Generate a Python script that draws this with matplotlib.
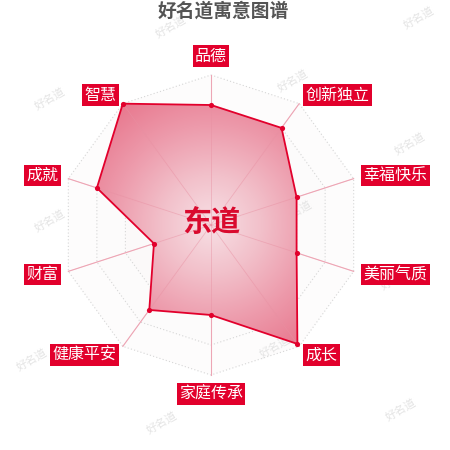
import numpy as np
import matplotlib
matplotlib.use("Agg")
import matplotlib.pyplot as plt
from matplotlib.patches import Polygon
from matplotlib.colors import LinearSegmentedColormap

plt.rcParams['font.family'] = ['Noto Sans CJK SC', 'DejaVu Sans']

# data
title = "好名道寓意图谱"
name = "东道"
categories = ["品德", "创新独立", "幸福快乐", "美丽气质", "成长",
              "家庭传承", "健康平安", "财富", "成就", "智慧"]
values = [80, 80, 60, 60, 98, 60, 70, 40, 80, 100]
max_value = 100
watermark = "好名道"

RED = "#e2002c"

fig = plt.figure(figsize=(4.5, 4.5), dpi=100)
ax = fig.add_axes([0, 0, 1, 1])
# radius 1 == 150 px, centre at (211, 225) px
ax.set_xlim(-211 / 150, 239 / 150)
ax.set_ylim(-1.5, 1.5)
ax.set_aspect("equal")
ax.axis("off")

n = len(categories)
ang = np.pi / 2 - np.arange(n) * 2 * np.pi / n
ux, uy = np.cos(ang), np.sin(ang)

# background rings
levels = [0.2, 0.4, 0.6, 0.8, 1.0]
ring_fill = ["#f7f2f3", "#f9f6f7", "#fbf9f9", "#fcfbfb", "#fdfcfc"]
for lv, fc in zip(levels[::-1], ring_fill[::-1]):
    ax.add_patch(Polygon(np.c_[ux * lv, uy * lv], closed=True, facecolor=fc,
                         edgecolor="none", zorder=1))
for lv in levels:
    xs = np.r_[ux, ux[0]] * lv
    ys = np.r_[uy, uy[0]] * lv
    ax.plot(xs, ys, color="#d6d6d6", lw=0.8, ls=(0, (1, 2)), zorder=2)

# axis lines
for x, y in zip(ux, uy):
    ax.plot([0, x], [0, y], color="#f2b6c3", lw=0.8, zorder=2)

# watermarks (axes fraction)
wm_pos = [(0.38, 0.94), (0.93, 0.96), (0.65, 0.82), (0.11, 0.78), (0.91, 0.68),
          (0.11, 0.51), (0.66, 0.53), (0.88, 0.38), (0.07, 0.20), (0.61, 0.23),
          (0.36, 0.06), (0.89, 0.09), (0.33, 0.56)]
for wx, wy in wm_pos:
    ax.text(wx, wy, watermark, transform=ax.transAxes, ha="center", va="center",
            color="#e4e4e4", fontsize=8, rotation=30, zorder=2.5)

# data polygon with radial gradient fill
r = np.array(values) / max_value
px, py = ux * r, uy * r
poly = Polygon(np.c_[px, py], closed=True, facecolor="none",
               edgecolor=RED, lw=1.3, zorder=5)
ax.add_patch(poly)
cmap = LinearSegmentedColormap.from_list(
    "fill", ["#f7e0e5", "#f2c0ca", "#ed9aab", "#e8788e"])
gx, gy = np.meshgrid(np.linspace(-1.05, 1.05, 300), np.linspace(-1.05, 1.05, 300))
grad = np.clip(np.hypot(gx, gy), 0, 1)
im = ax.imshow(grad, cmap=cmap, extent=(-1.05, 1.05, -1.05, 1.05),
               origin="lower", zorder=3, vmin=0, vmax=1)
clip = Polygon(np.c_[px, py], closed=True, transform=ax.transData)
im.set_clip_path(clip)
for x, y in zip(ux, uy):
    ax.plot([0, x], [0, y], color="#e890a2", lw=0.6, alpha=0.5, zorder=4)
ax.scatter(px, py, s=14, color=RED, zorder=6, linewidths=0)

# category labels
lr = 1.07
for cat, x, y in zip(categories, ux, uy):
    if abs(x) < 1e-6:
        ha = "center"
        va = "bottom" if y > 0 else "top"
    else:
        ha = "left" if x > 0 else "right"
        va = "center"
    ax.text(x * lr, y * lr, cat, ha=ha, va=va, color="white",
            fontsize=11.5, zorder=8,
            bbox=dict(boxstyle="square,pad=0.14", facecolor=RED, edgecolor="none"))

# centre name
ax.text(0, 0.02, name, ha="center", va="center", color="#d90a2e",
        fontsize=21, fontweight="bold", zorder=9)

# title
fig.text(0.497, 0.975, title, ha="center", va="center", color="#555555",
         fontsize=13.5, fontweight="bold")

fig.savefig("out.png", dpi=100)
